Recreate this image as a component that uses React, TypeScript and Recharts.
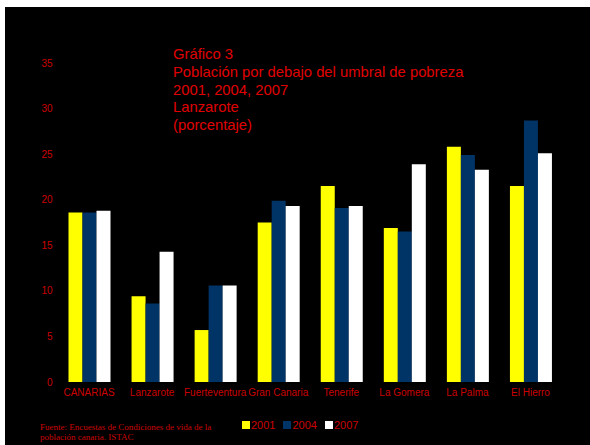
import { BarChart, Bar, XAxis, YAxis, Legend } from 'recharts';

const islands = [
  'CANARIAS',
  'Lanzarote',
  'Fuerteventura',
  'Gran Canaria',
  'Tenerife',
  'La Gomera',
  'La Palma',
  'El Hierro',
];
const values2001 = [18.6, 9.4, 5.7, 17.5, 21.5, 16.9, 25.8, 21.5];
const values2004 = [18.6, 8.6, 10.6, 19.9, 19.1, 16.5, 24.9, 28.7];
const values2007 = [18.8, 14.3, 10.6, 19.3, 19.3, 23.9, 23.3, 25.1];
const yTicks = [0, 5, 10, 15, 20, 25, 30, 35];

const titleLines = [
  'Gráfico 3',
  'Población por debajo del umbral de pobreza',
  '2001, 2004, 2007',
  'Lanzarote',
  '(porcentaje)',
];

const series = [
  { key: 'y2001', name: '2001', color: '#ffff00' },
  { key: 'y2004', name: '2004', color: '#003366' },
  { key: 'y2007', name: '2007', color: '#ffffff' },
];

const data = islands.map((name, i) => ({
  name,
  y2001: values2001[i],
  y2004: values2004[i],
  y2007: values2007[i],
}));

const RED = '#cc0000';
const FONT = '"Liberation Sans", Arial, sans-serif';

function LegendRow() {
  return (
    <div style={{ display: 'flex', alignItems: 'center', fontFamily: FONT, fontSize: 11, color: RED }}>
      {series.map((s) => (
        <div key={s.key} style={{ display: 'flex', alignItems: 'center', marginRight: 8 }}>
          <div style={{ width: 8, height: 8, background: s.color, marginRight: 1 }} />
          <span>{s.name}</span>
        </div>
      ))}
    </div>
  );
}

export default function App() {
  return (
    <div style={{ position: 'absolute', left: 0, top: 0, width: 590, height: 445, background: '#fff' }}>
      <div
        style={{
          position: 'absolute',
          left: 5,
          top: 7,
          width: 585,
          height: 438,
          background: '#000',
          overflow: 'hidden',
        }}
      >
        <BarChart
          width={585}
          height={438}
          data={data}
          margin={{ top: 56, right: 28, bottom: 31, left: 0 }}
          barGap={0}
          barCategoryGap="16.7%"
        >
          <XAxis
            dataKey="name"
            axisLine={false}
            tickLine={false}
            tickSize={0}
            tickMargin={7}
            height={20}
            interval={0}
            tick={{ fill: RED, fontSize: 10, fontFamily: FONT }}
          />
          <YAxis
            domain={[0, 35]}
            ticks={yTicks}
            axisLine={false}
            tickLine={false}
            tickSize={0}
            tickMargin={5}
            width={52.5}
            tick={{ fill: RED, fontSize: 10, fontFamily: FONT }}
          />
          <Legend
            content={<LegendRow />}
            wrapperStyle={{ position: 'absolute', left: 237, top: 412, width: 'auto', bottom: 'auto' }}
          />
          {series.map((s) => (
            <Bar
              key={s.key}
              dataKey={s.key}
              name={s.name}
              fill={s.color}
              barSize={14}
              isAnimationActive={false}
            />
          ))}
        </BarChart>

        <div
          style={{
            position: 'absolute',
            left: 168,
            top: 39,
            fontFamily: FONT,
            fontSize: 14.8,
            lineHeight: '17.75px',
            color: '#e00000',
            whiteSpace: 'nowrap',
          }}
        >
          {titleLines.map((line) => (
            <div key={line}>{line}</div>
          ))}
        </div>

        <div
          style={{
            position: 'absolute',
            left: 35,
            top: 415,
            fontFamily: '"Liberation Serif", "Times New Roman", serif',
            fontSize: 9,
            lineHeight: '10px',
            color: RED,
            whiteSpace: 'nowrap',
          }}
        >
          <div>Fuente: Encuestas de Condiciones de vida de la</div>
          <div>población canaria. ISTAC</div>
        </div>
      </div>
    </div>
  );
}
